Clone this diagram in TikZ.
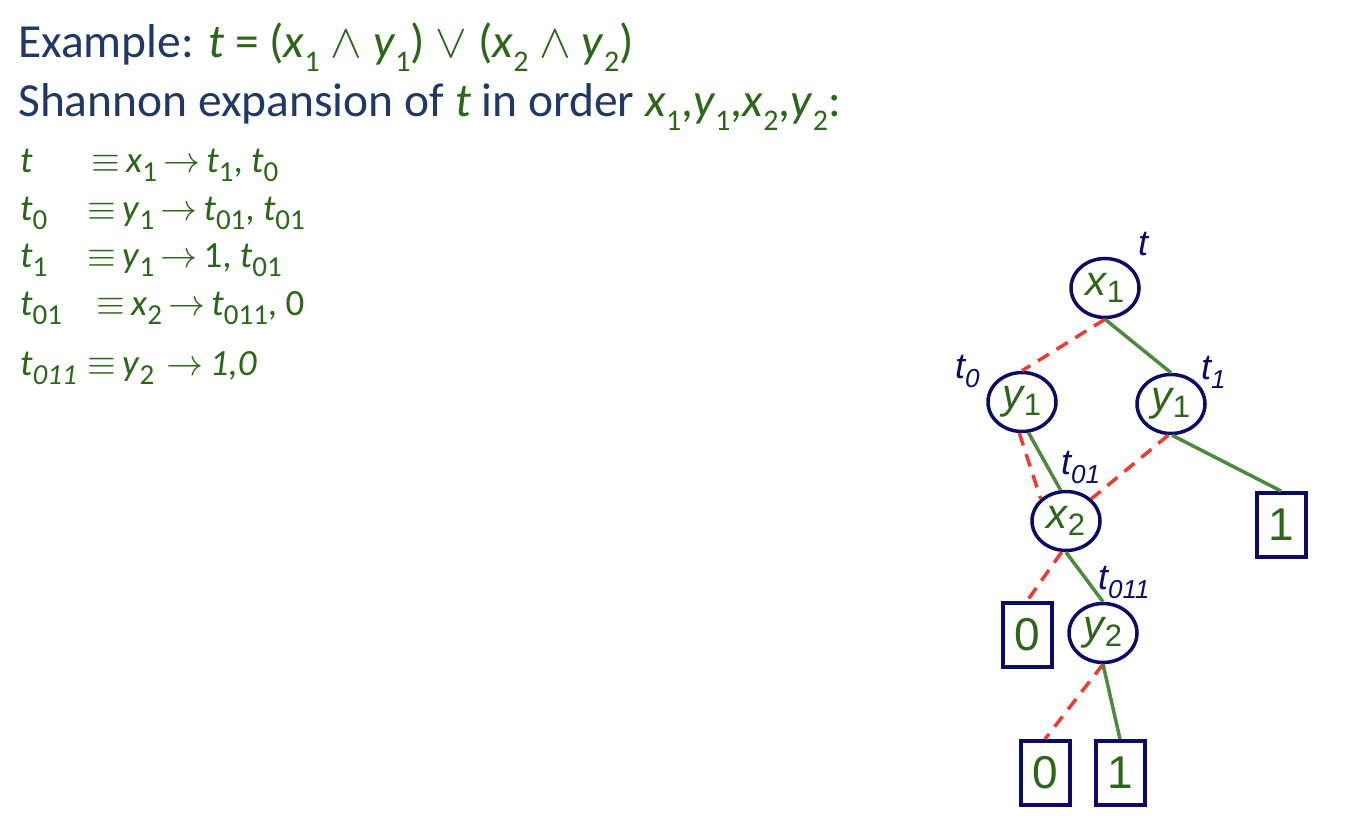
\RequirePackage{fix-cm}
\documentclass[tikz,border=0pt]{standalone}
\usepackage{fontspec}
\setmainfont{Carlito}
\newfontfamily\arialf{Liberation Sans}
\usetikzlibrary{shapes.geometric}
\definecolor{navyT}{HTML}{1F3864}
\definecolor{grT}{HTML}{2C6618}
\definecolor{navyB}{HTML}{0C0C66}
\definecolor{redE}{HTML}{EE3B2F}
\definecolor{grE}{HTML}{4E8A3E}
\newcommand{\hs}[1]{\raisebox{-0.28em}{\fontsize{30}{30}\selectfont #1}}
\newcommand{\es}[1]{\raisebox{-0.26em}{\fontsize{29}{29}\selectfont #1}}
\newcommand{\ts}[1]{\raisebox{-0.27em}{\fontsize{26}{26}\selectfont\itshape #1}}
\newcommand{\ns}[1]{\raisebox{-0.16em}{\fontsize{31}{31}\selectfont\upshape #1}}
\tikzset{
 hdr/.style={anchor=base west, inner sep=0pt, text=grT, font=\fontsize{47.5}{47.5}\selectfont},
 eqn/.style={anchor=base west, inner sep=0pt, text=grT, font=\fontsize{37}{37}\selectfont},
 vnode/.style={ellipse, draw=navyB, line width=3.5pt, minimum width=68pt, minimum height=59pt, inner sep=0pt, text=grT, font=\arialf\fontsize{42}{42}\selectfont\itshape},
 leaf/.style={rectangle, draw=navyB, line width=4pt, minimum width=49pt, minimum height=64pt, inner sep=0pt, text=grT, font=\arialf\fontsize{46}{46}\selectfont},
 lo/.style={draw=redE, line width=3.5pt, dash pattern=on 13pt off 9pt},
 hi/.style={draw=grE, line width=3.5pt},
 tlab/.style={anchor=base west, inner sep=0pt, text=navyB, font=\arialf\fontsize{36}{36}\selectfont\itshape},
}
\begin{document}
\begin{tikzpicture}[x=1pt,y=-1pt]
\useasboundingbox (0,0) rectangle (1366,832);
% header
\node[hdr] (l1) at (18,58) {\textcolor{navyT}{Example:} \textit{t} = (\textit{x}\hs{1} $\wedge$ \textit{y}\hs{1}) $\vee$ (\textit{x}\hs{2} $\wedge$ \textit{y}\hs{2})};
\node[hdr] (l2) at (18,117) {\textcolor{navyT}{Shannon expansion of} \textit{t} \textcolor{navyT}{in order} \textit{x}\hs{1},\textit{y}\hs{1},\textit{x}\hs{2},\textit{y}\hs{2}:};
% equations
\node[eqn] (e1a) at (20,172) {\textit{t}};
\node[eqn] (e1b) at (91,172) {$\equiv$\,\textit{x}\es{1}\,$\rightarrow$\,\textit{t}\es{1}, \textit{t}\es{0}};
\node[eqn] (e2a) at (20,220) {\textit{t}\es{0}};
\node[eqn] (e2b) at (87,220) {$\equiv$\,\textit{y}\es{1}\,$\rightarrow$\,\textit{t}\es{01}, \textit{t}\es{01}};
\node[eqn] (e3a) at (20,267) {\textit{t}\es{1}};
\node[eqn] (e3b) at (87,267) {$\equiv$\,\textit{y}\es{1}\,$\rightarrow$\,1, \textit{t}\es{01}};
\node[eqn] (e4a) at (20,315) {\textit{t}\es{01}};
\node[eqn] (e4b) at (96,315) {$\equiv$\,\textit{x}\es{2}\,$\rightarrow$\,\textit{t}\es{011}, 0};
\node[eqn] (e5a) at (20,375) {\textit{t}\es{\itshape 011}};
\node[eqn] (e5b) at (87,375) {$\equiv$\,\textit{y}\es{2}\,\,$\rightarrow$\,\textit{1,0}};
% tree nodes
\node[vnode] (x1) at (1105,288) {x\ns{1}};
\node[vnode] (y1L) at (1022,402) {y\ns{1}};
\node[vnode] (y1R) at (1171,404) {y\ns{1}};
\node[vnode] (x2) at (1066,521) {x\ns{2}};
\node[vnode] (y2) at (1103,633) {y\ns{2}};
\node[leaf] (b1R) at (1281,525) {1};
\node[leaf] (b0M) at (1027,635) {0};
\node[leaf] (b0B) at (1045,773) {0};
\node[leaf] (b1B) at (1120,773) {1};
% edges
\draw[lo] (x1.south) -- (y1L.north);
\draw[hi] (x1.south) -- (y1R.north);
\draw[lo] (y1L.265) -- (x2.north west);
\draw[hi] (y1L.282) -- (x2.100);
\draw[lo] (y1R.265) -- (x2.north east);
\draw[hi] (y1R.272) -- (b1R.north);
\draw[lo] (x2.262) -- (b0M.north);
\draw[hi] (x2.south) -- (y2.north);
\draw[lo] (y2.south) -- (b0B.north);
\draw[hi] (y2.south) -- (b1B.north);
% labels
\node[tlab] (lt) at (1138,255) {t};
\node[tlab] (lt0) at (955,378) {t\ts{0}};
\node[tlab] (lt1) at (1201,379) {t\ts{1}};
\node[tlab] (lt01) at (1061,474) {t\ts{01}};
\node[tlab] (lt011) at (1098,589) {t\ts{011}};
\end{tikzpicture}
\end{document}
